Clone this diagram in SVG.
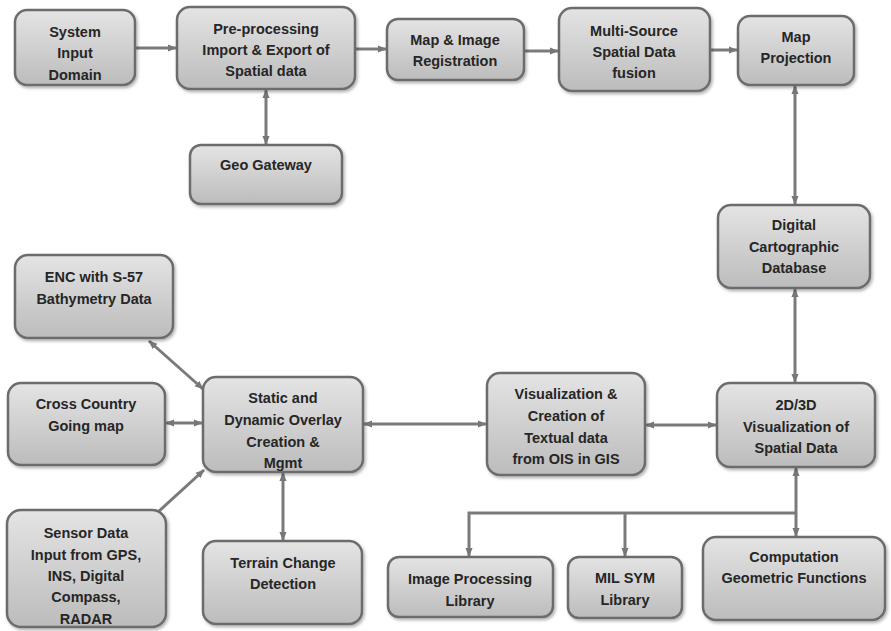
<svg xmlns="http://www.w3.org/2000/svg" width="891" height="631" viewBox="0 0 891 631">
<defs>
<linearGradient id="g" x1="0" y1="0" x2="0" y2="1">
<stop offset="0" stop-color="#e4e4e4"/>
<stop offset="1" stop-color="#bcbcbc"/>
</linearGradient>
<filter id="sh" x="-10%" y="-10%" width="130%" height="130%">
<feDropShadow dx="1.5" dy="2" stdDeviation="1.5" flood-color="#000" flood-opacity="0.3"/>
</filter>
<marker id="ah" viewBox="0 0 10 10" refX="9" refY="5" markerWidth="9" markerHeight="9" markerUnits="userSpaceOnUse" orient="auto-start-reverse">
<path d="M0,1 L10,5 L0,9 Z" fill="#777"/>
</marker>
</defs>
<style>
.b{fill:url(#g);stroke:#6c6c6c;stroke-width:2.5;filter:url(#sh)}
.t{font-family:"Liberation Sans",Arial,sans-serif;font-weight:bold;font-size:14.5px;fill:#262626;text-anchor:middle}
.c{fill:none;stroke:#7a7a7a;stroke-width:3}
</style>
<rect width="891" height="631" fill="#fff"/>
<g id="connectors">
<line class="c" x1="135" y1="48" x2="176" y2="48" marker-end="url(#ah)"/>
<line class="c" x1="355" y1="49" x2="386" y2="49" marker-end="url(#ah)"/>
<line class="c" x1="524" y1="51" x2="558" y2="51" marker-end="url(#ah)"/>
<line class="c" x1="710" y1="50" x2="737" y2="50" marker-end="url(#ah)"/>
<line class="c" x1="266" y1="90" x2="266" y2="144" marker-start="url(#ah)" marker-end="url(#ah)"/>
<line class="c" x1="795" y1="86" x2="795" y2="204" marker-start="url(#ah)" marker-end="url(#ah)"/>
<line class="c" x1="795" y1="289" x2="795" y2="382" marker-start="url(#ah)" marker-end="url(#ah)"/>
<line class="c" x1="646" y1="425" x2="716" y2="425" marker-start="url(#ah)" marker-end="url(#ah)"/>
<line class="c" x1="364" y1="424" x2="486" y2="424" marker-start="url(#ah)" marker-end="url(#ah)"/>
<line class="c" x1="166" y1="423" x2="202" y2="423" marker-start="url(#ah)" marker-end="url(#ah)"/>
<line class="c" x1="149" y1="341" x2="203" y2="389" marker-start="url(#ah)" marker-end="url(#ah)"/>
<line class="c" x1="158" y1="512" x2="204" y2="470" marker-end="url(#ah)"/>
<line class="c" x1="283" y1="473" x2="283" y2="540" marker-start="url(#ah)" marker-end="url(#ah)"/>
<line class="c" x1="796" y1="468" x2="796" y2="536" marker-start="url(#ah)" marker-end="url(#ah)"/>
<polyline class="c" points="796,513 469,513 469,556" marker-end="url(#ah)"/>
<line class="c" x1="625" y1="513" x2="625" y2="556" marker-end="url(#ah)"/>
</g>
<g id="n1"><rect class="b" x="15" y="10" width="120" height="75" rx="12"/>
<text class="t" x="75"><tspan x="75" y="37">System</tspan><tspan x="75" y="58">Input</tspan><tspan x="75" y="80">Domain</tspan></text></g>
<g id="n2"><rect class="b" x="177" y="7" width="178" height="82" rx="13"/>
<text class="t"><tspan x="266" y="34">Pre-processing</tspan><tspan x="266" y="55">Import &amp; Export of</tspan><tspan x="266" y="76">Spatial data</tspan></text></g>
<g id="n3"><rect class="b" x="190" y="145" width="152" height="59" rx="11"/>
<text class="t" x="266" y="170">Geo Gateway</text></g>
<g id="n4"><rect class="b" x="387" y="19" width="137" height="61" rx="11"/>
<text class="t"><tspan x="455" y="45">Map &amp; Image</tspan><tspan x="455" y="66">Registration</tspan></text></g>
<g id="n5"><rect class="b" x="559" y="8" width="151" height="83" rx="13"/>
<text class="t"><tspan x="634" y="36">Multi-Source</tspan><tspan x="634" y="57">Spatial Data</tspan><tspan x="634" y="78">fusion</tspan></text></g>
<g id="n6"><rect class="b" x="738" y="16" width="116" height="69" rx="12"/>
<text class="t"><tspan x="796" y="42">Map</tspan><tspan x="796" y="63">Projection</tspan></text></g>
<g id="n7"><rect class="b" x="718" y="205" width="152" height="83" rx="13"/>
<text class="t"><tspan x="794" y="230">Digital</tspan><tspan x="794" y="252">Cartographic</tspan><tspan x="794" y="273">Database</tspan></text></g>
<g id="n8"><rect class="b" x="717" y="383" width="158" height="84" rx="13"/>
<text class="t"><tspan x="796" y="410">2D/3D</tspan><tspan x="796" y="432">Visualization of</tspan><tspan x="796" y="453">Spatial Data</tspan></text></g>
<g id="n9"><rect class="b" x="487" y="373" width="158" height="102" rx="13"/>
<text class="t"><tspan x="566" y="399">Visualization &amp;</tspan><tspan x="566" y="421">Creation of</tspan><tspan x="566" y="443">Textual data</tspan><tspan x="566" y="464">from OIS in GIS</tspan></text></g>
<g id="n10"><rect class="b" x="15" y="255" width="158" height="83" rx="13"/>
<text class="t"><tspan x="94" y="282">ENC with S-57</tspan><tspan x="94" y="304">Bathymetry Data</tspan></text></g>
<g id="n11"><rect class="b" x="8" y="383" width="157" height="82" rx="13"/>
<text class="t"><tspan x="86" y="409">Cross Country</tspan><tspan x="86" y="431">Going map</tspan></text></g>
<g id="n12"><rect class="b" x="203" y="377" width="160" height="95" rx="13"/>
<text class="t"><tspan x="283" y="403">Static and</tspan><tspan x="283" y="425">Dynamic Overlay</tspan><tspan x="283" y="447">Creation &amp;</tspan><tspan x="283" y="468">Mgmt</tspan></text></g>
<g id="n13"><rect class="b" x="7" y="510" width="159" height="117" rx="14"/>
<text class="t"><tspan x="86" y="538">Sensor Data</tspan><tspan x="86" y="560">Input from GPS,</tspan><tspan x="86" y="581">INS, Digital</tspan><tspan x="86" y="602">Compass,</tspan><tspan x="86" y="624">RADAR</tspan></text></g>
<g id="n14"><rect class="b" x="203" y="541" width="159" height="83" rx="13"/>
<text class="t"><tspan x="283" y="568">Terrain Change</tspan><tspan x="283" y="589">Detection</tspan></text></g>
<g id="n15"><rect class="b" x="388" y="557" width="165" height="60" rx="11"/>
<text class="t"><tspan x="470" y="584">Image Processing</tspan><tspan x="470" y="606">Library</tspan></text></g>
<g id="n16"><rect class="b" x="568" y="557" width="114" height="61" rx="11"/>
<text class="t"><tspan x="625" y="583">MIL SYM</tspan><tspan x="625" y="605">Library</tspan></text></g>
<g id="n17"><rect class="b" x="703" y="537" width="182" height="83" rx="13"/>
<text class="t"><tspan x="794" y="562">Computation</tspan><tspan x="794" y="583">Geometric Functions</tspan></text></g>
</svg>
